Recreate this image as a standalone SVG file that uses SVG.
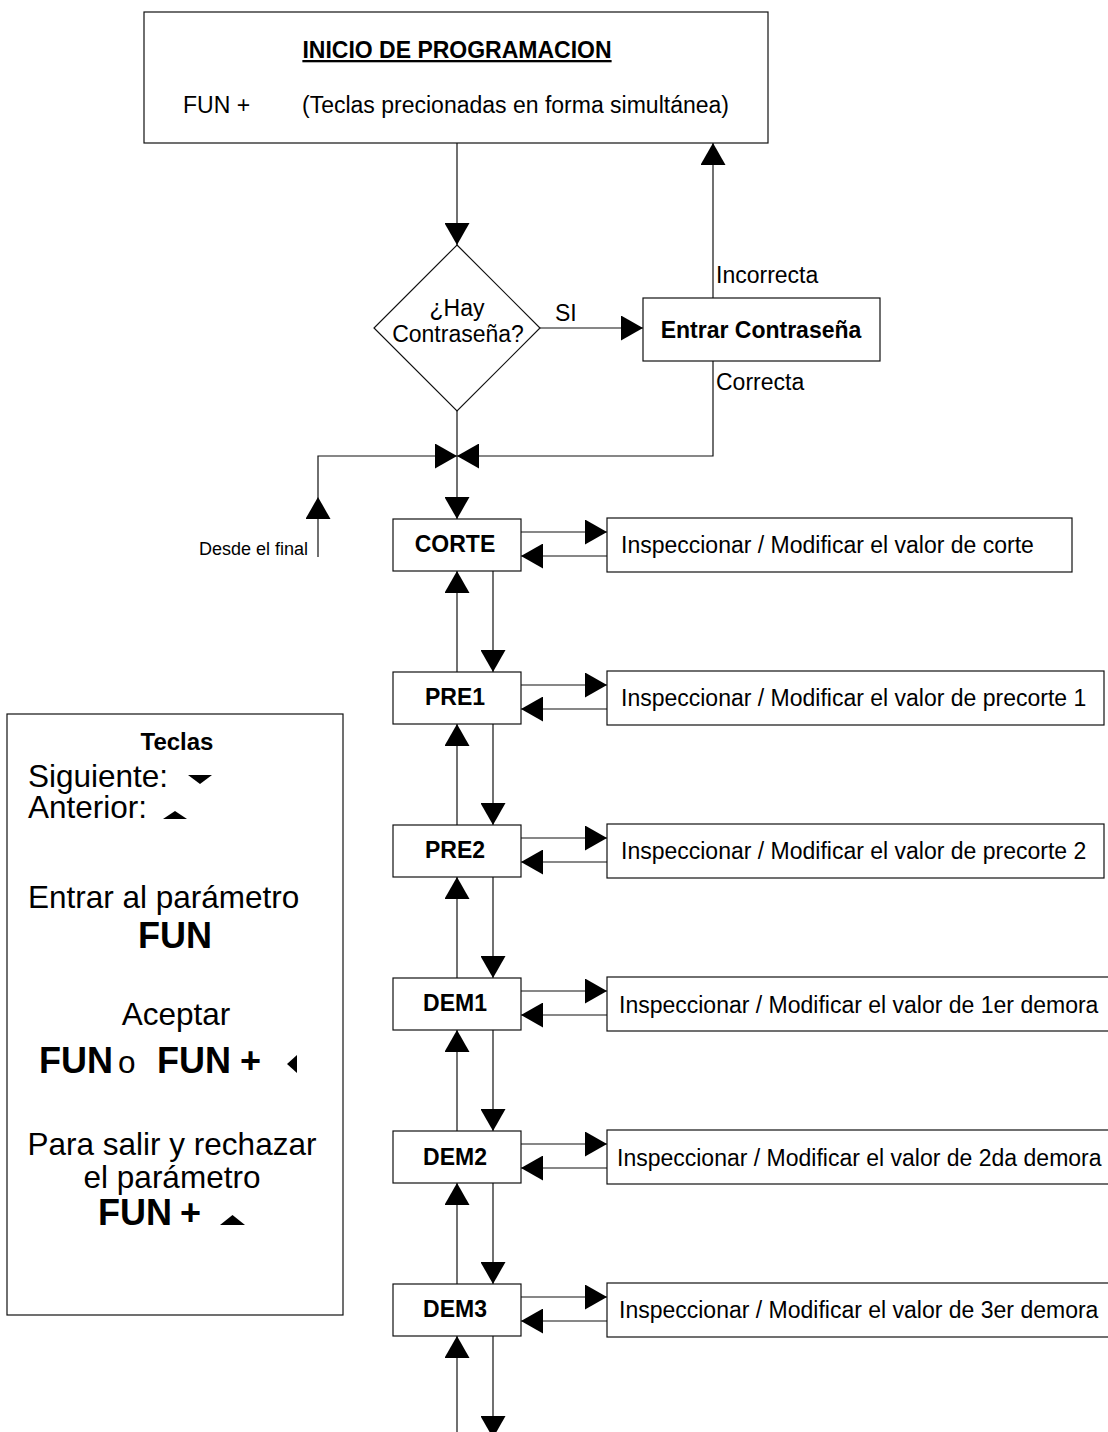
<svg xmlns="http://www.w3.org/2000/svg" width="1108" height="1432" viewBox="0 0 1108 1432">
<style>
.box{fill:#fff;stroke:#111;stroke-width:1.2}
.ln{fill:none;stroke:#111;stroke-width:1.2}
.t{font-family:"Liberation Sans",Arial,sans-serif;font-size:23px;fill:#000}
.b{font-weight:bold}
.m{text-anchor:middle}
.sm{font-size:18px}
.lg{font-family:"Liberation Sans",Arial,sans-serif;font-size:31.5px;fill:#000}
.lgb{font-family:"Liberation Sans",Arial,sans-serif;font-size:36px;font-weight:bold;fill:#000}
.tri{fill:#000}
</style>
<defs>
<marker id="ah" markerUnits="userSpaceOnUse" markerWidth="22" markerHeight="25" viewBox="0 0 22 25" refX="22" refY="12.5" orient="auto">
<path d="M0,0 L22,12.5 L0,25 Z" fill="#000"/>
</marker>
</defs>
<rect width="1108" height="1432" fill="#fff"/>

<g id="connectors">
<line class="ln" x1="457" y1="143" x2="457" y2="245" marker-end="url(#ah)"/>
<line class="ln" x1="540" y1="328" x2="643" y2="328" marker-end="url(#ah)"/>
<line class="ln" x1="713" y1="298" x2="713" y2="143" marker-end="url(#ah)"/>
<polyline class="ln" points="713,361 713,456 457,456" marker-end="url(#ah)"/>
<line class="ln" x1="318" y1="557" x2="318" y2="497" marker-end="url(#ah)"/>
<polyline class="ln" points="318,497 318,456 457,456" marker-end="url(#ah)"/>
<line class="ln" x1="457" y1="411" x2="457" y2="519" marker-end="url(#ah)"/>

<!-- CORTE -->
<line class="ln" x1="521" y1="532" x2="607" y2="532" marker-end="url(#ah)"/>
<line class="ln" x1="607" y1="556" x2="521" y2="556" marker-end="url(#ah)"/>
<line class="ln" x1="493" y1="571" x2="493" y2="672" marker-end="url(#ah)"/>
<line class="ln" x1="457" y1="672" x2="457" y2="571" marker-end="url(#ah)"/>
<!-- PRE1 -->
<line class="ln" x1="521" y1="685" x2="607" y2="685" marker-end="url(#ah)"/>
<line class="ln" x1="607" y1="709" x2="521" y2="709" marker-end="url(#ah)"/>
<line class="ln" x1="493" y1="724" x2="493" y2="825" marker-end="url(#ah)"/>
<line class="ln" x1="457" y1="825" x2="457" y2="724" marker-end="url(#ah)"/>
<!-- PRE2 -->
<line class="ln" x1="521" y1="838" x2="607" y2="838" marker-end="url(#ah)"/>
<line class="ln" x1="607" y1="862" x2="521" y2="862" marker-end="url(#ah)"/>
<line class="ln" x1="493" y1="877" x2="493" y2="978" marker-end="url(#ah)"/>
<line class="ln" x1="457" y1="978" x2="457" y2="877" marker-end="url(#ah)"/>
<!-- DEM1 -->
<line class="ln" x1="521" y1="991" x2="607" y2="991" marker-end="url(#ah)"/>
<line class="ln" x1="607" y1="1015" x2="521" y2="1015" marker-end="url(#ah)"/>
<line class="ln" x1="493" y1="1030" x2="493" y2="1131" marker-end="url(#ah)"/>
<line class="ln" x1="457" y1="1131" x2="457" y2="1030" marker-end="url(#ah)"/>
<!-- DEM2 -->
<line class="ln" x1="521" y1="1144" x2="607" y2="1144" marker-end="url(#ah)"/>
<line class="ln" x1="607" y1="1168" x2="521" y2="1168" marker-end="url(#ah)"/>
<line class="ln" x1="493" y1="1183" x2="493" y2="1284" marker-end="url(#ah)"/>
<line class="ln" x1="457" y1="1284" x2="457" y2="1183" marker-end="url(#ah)"/>
<!-- DEM3 -->
<line class="ln" x1="521" y1="1297" x2="607" y2="1297" marker-end="url(#ah)"/>
<line class="ln" x1="607" y1="1321" x2="521" y2="1321" marker-end="url(#ah)"/>
<line class="ln" x1="493" y1="1336" x2="493" y2="1438" marker-end="url(#ah)"/>
<line class="ln" x1="457" y1="1440" x2="457" y2="1336" marker-end="url(#ah)"/>
</g>

<g id="inicio">
<rect class="box" x="144" y="12" width="624" height="131"/>
<text class="t b m" x="457" y="58" text-decoration="underline">INICIO DE PROGRAMACION</text>
<text class="t" x="183" y="113">FUN +</text>
<text class="t" x="302" y="113">(Teclas precionadas en forma simultánea)</text>
</g>

<g id="decision">
<polygon class="box" points="457,245 540,328 457,411 374,328"/>
<text class="t m" x="457" y="316">¿Hay</text>
<text class="t m" x="458" y="342">Contraseña?</text>
</g>

<g id="labels">
<text class="t" x="555" y="321">SI</text>
<text class="t" x="716" y="283">Incorrecta</text>
<text class="t" x="716" y="390">Correcta</text>
<text class="t sm" x="308" y="555" text-anchor="end">Desde el final</text>
</g>

<g id="entrar">
<rect class="box" x="643" y="298" width="237" height="63"/>
<text class="t b m" x="761" y="338">Entrar Contraseña</text>
</g>

<g id="corte">
<rect class="box" x="393" y="519" width="128" height="52"/>
<text class="t b m" x="455" y="552">CORTE</text>
</g>
<g id="corte-val">
<rect class="box" x="607" y="518" width="465" height="54"/>
<text class="t" x="621" y="553">Inspeccionar / Modificar el valor de corte</text>
</g>

<g id="pre1">
<rect class="box" x="393" y="672" width="128" height="52"/>
<text class="t b m" x="455" y="705">PRE1</text>
</g>
<g id="pre1-val">
<rect class="box" x="607" y="671" width="497" height="54"/>
<text class="t" x="621" y="706">Inspeccionar / Modificar el valor de precorte 1</text>
</g>

<g id="pre2">
<rect class="box" x="393" y="825" width="128" height="52"/>
<text class="t b m" x="455" y="858">PRE2</text>
</g>
<g id="pre2-val">
<rect class="box" x="607" y="824" width="497" height="54"/>
<text class="t" x="621" y="859">Inspeccionar / Modificar el valor de precorte 2</text>
</g>

<g id="dem1">
<rect class="box" x="393" y="978" width="128" height="52"/>
<text class="t b m" x="455" y="1011">DEM1</text>
</g>
<g id="dem1-val">
<rect class="box" x="607" y="977" width="510" height="54"/>
<text class="t" x="619" y="1013">Inspeccionar / Modificar el valor de 1er demora</text>
</g>

<g id="dem2">
<rect class="box" x="393" y="1131" width="128" height="52"/>
<text class="t b m" x="455" y="1165">DEM2</text>
</g>
<g id="dem2-val">
<rect class="box" x="607" y="1130" width="510" height="54"/>
<text class="t" x="617" y="1166">Inspeccionar / Modificar el valor de 2da demora</text>
</g>

<g id="dem3">
<rect class="box" x="393" y="1284" width="128" height="52"/>
<text class="t b m" x="455" y="1317">DEM3</text>
</g>
<g id="dem3-val">
<rect class="box" x="607" y="1283" width="510" height="54"/>
<text class="t" x="619" y="1318">Inspeccionar / Modificar el valor de 3er demora</text>
</g>

<g id="teclas">
<rect class="box" x="7" y="714" width="336" height="601"/>
<text class="t b m" x="177" y="750" style="font-size:24px">Teclas</text>
<text class="lg" x="28" y="787">Siguiente:</text>
<polygon class="tri" points="188,775 212,775 200,784"/>
<text class="lg" x="28" y="818">Anterior:</text>
<polygon class="tri" points="163,819 187,819 175,811"/>
<text class="lg" x="28" y="908">Entrar al parámetro</text>
<text class="lgb" x="175" y="948" text-anchor="middle">FUN</text>
<text class="lg" x="176" y="1025" text-anchor="middle">Aceptar</text>
<text class="lgb" x="39" y="1073">FUN</text>
<text class="lg" x="118" y="1073">o</text>
<text class="lgb" x="157" y="1073">FUN</text>
<text class="lgb" x="240" y="1073">+</text>
<polygon class="tri" points="287,1064 297,1055 297,1073"/>
<text class="lg" x="172" y="1155" text-anchor="middle">Para salir y rechazar</text>
<text class="lg" x="172" y="1188" text-anchor="middle">el parámetro</text>
<text class="lgb" x="98" y="1225">FUN</text>
<text class="lgb" x="180" y="1225">+</text>
<polygon class="tri" points="220,1225 245,1225 232.5,1215"/>
</g>
</svg>
